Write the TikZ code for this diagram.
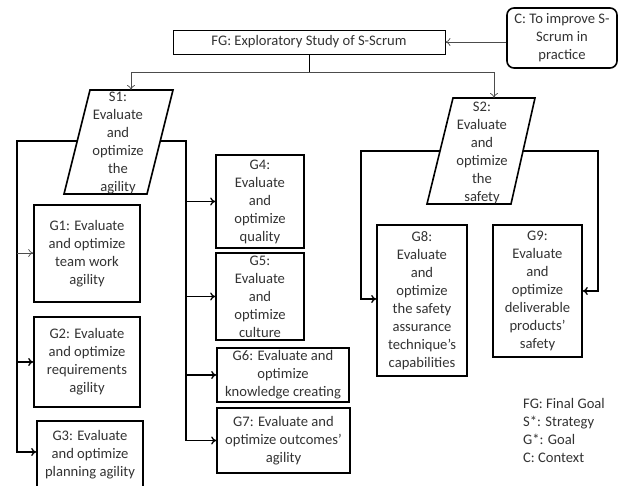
\documentclass[tikz,border=0pt]{standalone}
\usepackage{fontspec}
\setmainfont{Carlito}
\usepackage{tikz}
\usetikzlibrary{shapes,arrows.meta}

\tikzset{
  goal/.style={draw,line width=1.6pt,align=center,inner sep=1pt},
  ctx/.style={draw,line width=1.6pt,rounded corners=7pt,align=center},
  conn/.style={line width=1.3pt,-{To[length=5pt,width=8pt]}},
  plain/.style={line width=1.3pt},
  thinconn/.style={line width=0.7pt,draw=black!70,-{To[length=5pt,width=8pt]}}
}

\begin{document}
\begin{tikzpicture}[x=1pt,y=-1pt,font=\fontsize{14.6}{18}\selectfont,text=black!80]
\useasboundingbox[fill=white] (0,0) rectangle (625,486);
% top goal and context
\draw (309,42) node[draw,line width=0.9pt,minimum width=272pt,minimum height=24pt] (fg) {FG: Exploratory Study of S-Scrum};
\draw (562,38) node[ctx,minimum width=110pt,minimum height=60pt] (c) {C: To improve S-\\Scrum in\\practice};
\draw[thinconn] (c.west |- fg.east) -- (fg.east);
% strategies
\draw[line width=1.6pt] (64,194) -- (90,90) -- (173,90) -- (147,194) -- cycle;
\draw (118,143) node[align=center] (s1) {S1:\\Evaluate\\and\\optimize\\the\\agility};
\draw[line width=1.6pt] (427,204) -- (453,98) -- (535,98) -- (511,204) -- cycle;
\draw (482,153) node[align=center] (s2) {S2:\\Evaluate\\and\\optimize\\the\\safety};
\coordinate (bus) at (309,72);
\coordinate (s1top) at (131,90);
\coordinate (s2top) at (494,98);
\draw[line width=0.9pt] (fg.south) -- (bus);
\draw[thinconn] (bus) -| (s1top);
\draw[thinconn] (bus) -| (s2top);
% goals of S1
\draw (87,253.5) node[goal,minimum width=106pt,minimum height=97pt] (g1) {G1: Evaluate\\and optimize\\team work\\agility};
\draw (87,362) node[goal,minimum width=106pt,minimum height=90pt] (g2) {G2: Evaluate\\and optimize\\requirements\\agility};
\draw (90,455) node[goal,minimum width=106pt,minimum height=68pt] (g3) {G3: Evaluate\\and optimize\\planning agility};
\draw (260,201.5) node[goal,minimum width=88pt,minimum height=93pt] (g4) {G4:\\Evaluate\\and\\optimize\\quality};
\draw (260,296.5) node[goal,minimum width=88pt,minimum height=87pt] (g5) {G5:\\Evaluate\\and\\optimize\\culture};
\draw (283,375) node[goal,minimum width=132pt,minimum height=54pt] (g6) {G6: Evaluate and\\optimize\\knowledge creating};
\draw (283.5,440.5) node[goal,minimum width=133pt,minimum height=65pt] (g7) {G7: Evaluate and\\optimize outcomes'\\agility};
\coordinate (s1l) at (77,141);
\coordinate (s1r) at (160,141);
\draw[plain] (s1l) -- (17,141) -- (17,362);
\draw[thinconn] (17,253) -- (g1.west |- 0,253);
\draw[conn] (17,362) -- (g2.west);
\draw[conn] (17,362) |- (g3.west |- 0,452);
\draw[plain] (s1r) -- (186,141) -- (186,375);
\draw[conn] (186,201.5) -- (g4.west);
\draw[conn] (186,296.5) -- (g5.west);
\draw[conn] (186,375) -- (g6.west);
\draw[conn] (186,375) |- (g7.west);
% goals of S2
\draw (422,300.5) node[goal,minimum width=90pt,minimum height=151pt] (g8) {G8:\\Evaluate\\and\\optimize\\the safety\\assurance\\technique's\\capabilities};
\draw (537.5,291) node[goal,minimum width=89pt,minimum height=132pt] (g9) {G9:\\Evaluate\\and\\optimize\\deliverable\\products'\\safety};
\coordinate (s2l) at (440,151);
\coordinate (s2r) at (523,151);
\draw[conn] (s2l) -- (361,151) |- (g8.west |- 0,299);
\draw[conn] (s2r) -- (598,151) |- (g9.east);
% legend
\draw (523,398) node[anchor=north west,align=left,inner sep=0pt] (leg) {FG: Final Goal\\S*: Strategy\\G*: Goal\\C: Context};
\end{tikzpicture}
\end{document}
